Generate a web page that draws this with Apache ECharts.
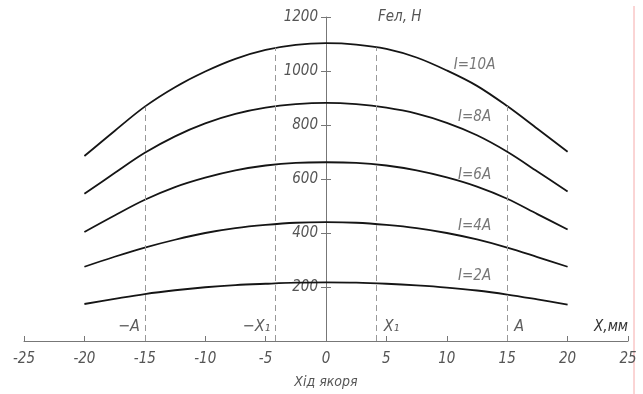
<!DOCTYPE html>
<html>
<head>
<meta charset="utf-8">
<script src="https://cdn.jsdelivr.net/npm/echarts@6/dist/echarts.min.js"></script>
<style>
  html, body { margin: 0; padding: 0; background: #fff; }
  #main { width: 643px; height: 394px; }
</style>
</head>
<body>
<div id="main"></div>
<script>
// armature stroke, mm
const xs = [-20, -17.5, -15, -12.5, -10, -7.5, -5, -2.5, 0, 2.5, 5, 7.5, 10, 12.5, 15, 17.5, 20];
// electromagnetic force, N
const f10 = [685, 778, 868, 940, 998, 1045, 1078, 1097, 1103, 1098, 1082, 1050, 1002, 945, 870, 786, 701];
const f8 = [545, 622, 697, 758, 806, 841, 864, 877, 882, 877, 864, 842, 808, 762, 701, 628, 554];
const f6 = [404, 465, 523, 570, 605, 632, 650, 660, 662, 660, 650, 632, 606, 572, 527, 470, 413];
const f4 = [275, 312, 346, 375, 400, 418, 430, 438, 440, 438, 430, 418, 400, 376, 346, 311, 275];
const f2 = [137, 156, 174, 188, 199, 207, 212, 216, 217, 216, 212, 206, 198, 187, 172, 154, 135];

const curveNames = ['I=10A', 'I=8A', 'I=6A', 'I=4A', 'I=2A'];
const curveLabelX = [12.3, 12.3, 12.3, 12.3, 12.3];
const curveLabelY = [1020, 831, 615, 426, 239];

const guideX = [-15, -4.2, 4.2, 15];
const guideTop = [868, 1087, 1087, 870];
const guideNames = ['−A', '−X₁', 'X₁', 'A'];
const guideLabelY = 51;

const font = "'Liberation Sans Narrow', 'DejaVu Sans Condensed', sans-serif";
const grey = '#777';

const chart = echarts.init(document.getElementById('main'));

function curve(name, vals) {
  return {
    name: name,
    type: 'line',
    smooth: 0.35,
    symbol: 'none',
    data: xs.map((x, i) => [x, vals[i]]),
    lineStyle: { color: '#151515', width: 1.8 },
    z: 3
  };
}

const series = [f10, f8, f6, f4, f2].map((v, i) => curve(curveNames[i], v));

series.push({
  type: 'line',
  data: [],
  markLine: {
    silent: true,
    symbol: 'none',
    label: { show: false },
    lineStyle: { color: '#999', width: 1, type: [6, 4] },
    data: guideX.map((x, i) => [{ coord: [x, 0] }, { coord: [x, guideTop[i]] }])
  }
});

series.push({
  type: 'scatter',
  symbolSize: 0,
  silent: true,
  data: curveNames.map((n, i) => [curveLabelX[i], curveLabelY[i], n]),
  label: {
    show: true,
    position: 'inside',
    formatter: p => p.value[2],
    color: '#555',
    fontFamily: font,
    fontStyle: 'italic',
    fontSize: 15
  }
});

series.push({
  type: 'scatter',
  symbolSize: 0,
  silent: true,
  data: guideNames.map((n, i) => ({
    value: [guideX[i], guideLabelY, n],
    label: { position: guideX[i] < 0 ? 'left' : 'right', distance: guideX[i] < 0 ? 5 : 7 }
  })),
  label: {
    show: true,
    formatter: p => p.value[2],
    color: '#333',
    fontFamily: font,
    fontStyle: 'italic',
    fontSize: 16
  }
});

const option = {
  backgroundColor: '#fff',
  animation: false,
  grid: { left: 24, right: 15, top: 17, bottom: 50 },
  xAxis: [
    {
      type: 'value',
      min: -25,
      max: 25,
      interval: 5,
      name: 'X,мм',
      nameLocation: 'end',
      nameGap: 0,
      nameTextStyle: {
        align: 'right', verticalAlign: 'bottom', padding: [0, 0, 6, 0],
        color: '#333', fontFamily: font, fontStyle: 'italic', fontSize: 15
      },
      axisLine: { onZero: false, lineStyle: { color: grey, width: 1 } },
      axisTick: { inside: true, length: 5, lineStyle: { color: grey } },
      axisLabel: { margin: 11, color: '#555', fontFamily: font, fontStyle: 'italic', fontSize: 15 },
      splitLine: { show: false }
    },
    {
      type: 'value',
      min: -25,
      max: 25,
      position: 'bottom',
      name: 'Хід якоря',
      nameLocation: 'middle',
      nameGap: 34,
      nameTextStyle: { color: '#555', fontFamily: font, fontStyle: 'italic', fontSize: 14 },
      axisLine: { show: false },
      axisTick: { show: false },
      axisLabel: { show: false },
      splitLine: { show: false }
    }
  ],
  yAxis: [
    {
      type: 'value',
      min: 0,
      max: 1200,
      interval: 200,
      position: 'left',
      offset: -302,
      name: 'Fел, Н',
      nameLocation: 'end',
      nameGap: 0,
      nameTextStyle: {
        align: 'left', verticalAlign: 'middle', padding: [0, 0, 0, 52],
        color: '#555', fontFamily: font, fontStyle: 'italic', fontSize: 15
      },
      axisLine: { show: true, lineStyle: { color: grey, width: 1 } },
      axisTick: { show: true, length: 5, lineStyle: { color: grey } },
      axisLabel: {
        margin: 8,
        color: '#555', fontFamily: font, fontStyle: 'italic', fontSize: 15,
        formatter: v => (v === 0 ? '' : v)
      },
      splitLine: { show: false }
    },
    {
      type: 'value',
      min: 0,
      max: 1200,
      interval: 200,
      position: 'left',
      offset: -302,
      axisLine: { show: false },
      axisTick: { show: true, inside: true, length: 5, lineStyle: { color: grey } },
      axisLabel: { show: false },
      splitLine: { show: false }
    }
  ],
  graphic: [
    {
      type: 'line',
      shape: { x1: 634, y1: 6, x2: 634, y2: 394 },
      style: { stroke: '#f6aaaa', lineWidth: 1 }
    }
  ],
  series: series
};

chart.setOption(option);
</script>
</body>
</html>
